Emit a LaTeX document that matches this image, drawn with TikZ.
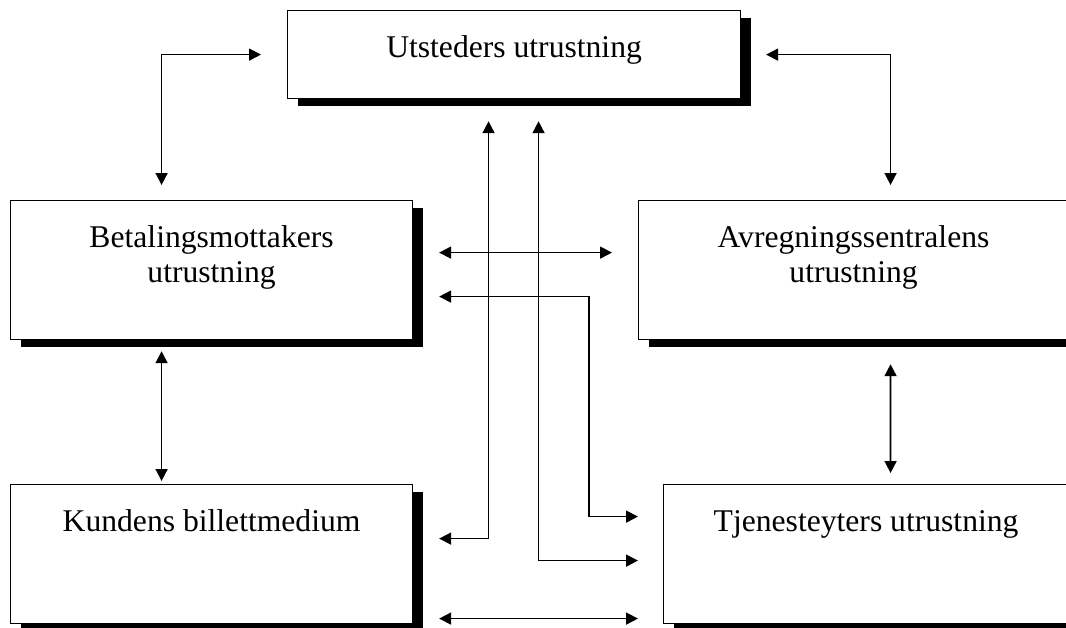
\documentclass[tikz,border=0pt]{standalone}
\usepackage{fontspec}
\setmainfont{Liberation Serif}
\usetikzlibrary{arrows.meta}
\usetikzlibrary{shadows}

\begin{document}
\begin{tikzpicture}[x=0.02cm,y=-0.02cm,
  box/.style={draw,line width=0.7pt,fill=white,inner sep=0pt,anchor=north west,align=center,
    font=\fontsize{18}{20}\selectfont,
    drop shadow={shadow xshift=0.2cm,shadow yshift=-0.14cm,fill=black,opacity=1}},
  onerow/.style={text height=0.94cm,text depth=#1},
  tworow/.style={text height=1.64cm,text depth=1.14cm},
  link/.style={<->,line width=0.95pt},
  >={Triangle[length=0.24cm,width=0.24cm]}]
\useasboundingbox (0,0) rectangle (1066,628);
\clip (0,0) rectangle (1066,628);
%\draw[help lines] (0,0) grid (1066,628);
\node[box,onerow=0.82cm,minimum width=9.06cm] (utst) at (287,10) {Utsteders utrustning};
\node[box,tworow,minimum width=8.04cm] (betal) at (10,200) {Betalingsmottakers\\utrustning};
\node[box,tworow,minimum width=8.6cm] (avreg) at (638,200) {Avregningssentralens\\utrustning};
\node[box,onerow=1.84cm,minimum width=8.04cm] (kund) at (10,484) {Kundens billettmedium};
\node[box,onerow=1.84cm,minimum width=8.1cm] (tjen) at (663,484) {Tjenesteyters utrustning};
\draw[link] ([xshift=-0.52cm]utst.west) -| ([xshift=-1cm,yshift=0.3cm]betal.north);
\draw[link] ([xshift=0.5cm]utst.east) -| ([xshift=0.74cm,yshift=0.3cm]avreg.north);
\draw[link] ([xshift=-1cm,yshift=-0.22cm]betal.south) -- ([xshift=-1cm,yshift=0.06cm]kund.north);
\draw[link] ([xshift=0.74cm,yshift=-0.48cm]avreg.south) -- ([xshift=0.49cm,yshift=0.22cm]tjen.north);
\draw[link] ([xshift=0.52cm,yshift=0.35cm]betal.east) -- ([xshift=-0.52cm,yshift=0.35cm]avreg.west);
\draw[link] ([xshift=0.52cm,yshift=-0.53cm]betal.east) -| ([xshift=-1.48cm,yshift=0.75cm]tjen.west) -- ([xshift=-0.5cm,yshift=0.75cm]tjen.west);
\draw[link] ([xshift=-0.51cm,yshift=-0.44cm]utst.south) |- ([xshift=0.52cm,yshift=0.31cm]kund.east);
\draw[link] ([xshift=0.49cm,yshift=-0.44cm]utst.south) |- ([xshift=-0.5cm,yshift=-0.13cm]tjen.west);
\draw[link] ([xshift=0.52cm,yshift=-1.29cm]kund.east) -- ([xshift=-0.5cm,yshift=-1.29cm]tjen.west);
\end{tikzpicture}
\end{document}
